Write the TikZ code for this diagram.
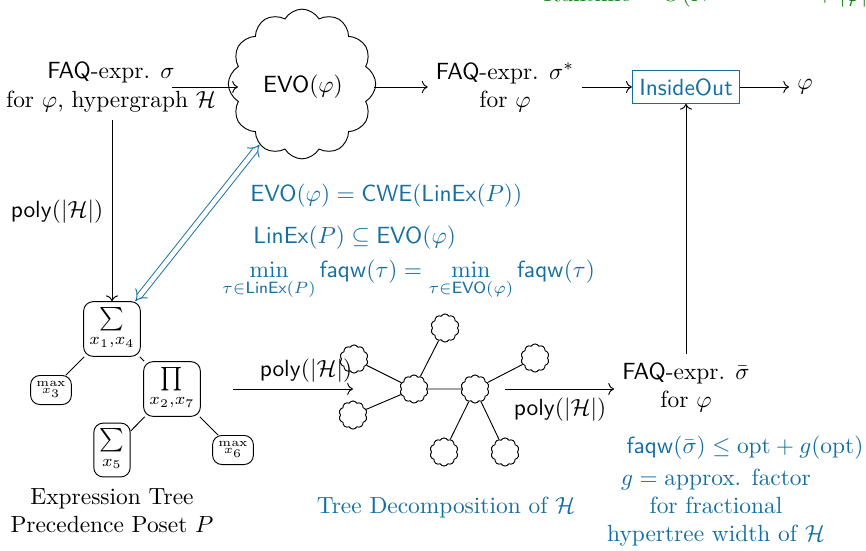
\documentclass[tikz,border=0pt]{standalone}
\usepackage{amsmath,amssymb}
\usetikzlibrary{shapes.symbols,arrows.meta}
\definecolor{tdblue}{rgb}{0.08,0.43,0.63}
\definecolor{rtgreen}{rgb}{0.05,0.52,0.05}
\tikzset{
  lbl/.style={align=center},
  bluetxt/.style={text=tdblue},
  treebox/.style={draw, rounded corners=4pt, inner sep=2.5pt},
  bag/.style={cloud, draw, cloud puffs=10, cloud puff arc=120, minimum width=12pt, minimum height=12pt, inner sep=0pt},
  conn/.style={->},
}
\begin{document}
\begin{tikzpicture}[x=0.4274pt,y=-0.4274pt]
\useasboundingbox (0,0) rectangle (866,550);

% clipped runtime text at the top
\node[anchor=base west, inner sep=0pt, text=rtgreen] (rt) at (543,1.5)
  {Runtime $=O(N^{\mathsf{faqw}(\sigma^*)}\hspace{4mm}+|\varphi|)$};

% top row
\node[lbl] (lt) at (111,87) {\textsf{FAQ}-expr. $\sigma$\\for $\varphi$, hypergraph $\mathcal{H}$};
\node[cloud, draw, cloud puffs=12, cloud puff arc=120, minimum width=63pt, minimum height=64pt, inner sep=0pt] (evo) at (302,84) {};
\node (evot) at (303,87) {$\mathsf{EVO}(\varphi)$};
\node[lbl] (ss) at (505,87) {\textsf{FAQ}-expr. $\sigma^*$\\for $\varphi$};
\node[draw=tdblue, text=tdblue, inner sep=3pt, minimum height=14pt] (io) at (686,87) {\textsf{InsideOut}};
\node (phi) at (805,87) {$\varphi$};

\coordinate (a1) at (172,87);
\coordinate (a1e) at (238,87);
\coordinate (a3) at (374,87);
\draw[conn] (a1) -- (a1e);
\draw[conn] (a3) -- (ss.west |- a3);
\draw[conn] (ss.east |- io.west) -- (io.west);
\draw[conn] (io.east) -- (phi.west);

% left vertical
\node (s1) [treebox] at (112,329) {$\sum\limits_{x_1,x_4}$};
\coordinate (a2) at (112,120);
\draw[conn] (a2) -- (s1.north);
\node (pl) at (57,212) {$\mathsf{poly}(|\mathcal{H}|)$};

% expression tree
\node (m3) [treebox] at (51,390) {\tiny$\max\limits_{x_3}$};
\node (p27) [treebox] at (172,389) {$\prod\limits_{x_2,x_7}$};
\node (s5) [treebox] at (112,450) {$\sum\limits_{x_5}$};
\node (m6) [treebox] at (233,450) {\tiny$\max\limits_{x_6}$};
\draw (s1) -- (m3);
\draw (s1) -- (p27);
\draw (p27) -- (s5);
\draw (p27) -- (m6);
\node[lbl] (et) at (112,511) {Expression Tree\\Precedence Poset $P$};

% blue double arrow and equations
\draw[tdblue, double, double distance=2pt, {Implies[length=4pt]}-{Implies[length=4pt]}] (s1.50) -- (evo.235);
\node[anchor=west, inner sep=0pt, text=tdblue] (e1) at (250,196) {$\mathsf{EVO}(\varphi)=\mathsf{CWE}(\mathsf{LinEx}(P))$};
\node[anchor=west, inner sep=0pt, text=tdblue] (e2) at (253,238) {$\mathsf{LinEx}(P)\subseteq\mathsf{EVO}(\varphi)$};
\node[anchor=base west, inner sep=0pt, text=tdblue] (e3) at (222,277)
  {$\min\limits_{\tau\in\mathsf{LinEx}(P)}\mathsf{faqw}(\tau)=\min\limits_{\tau\in\mathsf{EVO}(\varphi)}\mathsf{faqw}(\tau)$};

% middle arrow
\coordinate (b1) at (233,389);
\coordinate (b2) at (353,389);
\draw[conn] (b1) -- (b2);
\node (pm) at (306,371) {$\mathsf{poly}(|\mathcal{H}|)$};

% tree decomposition
\node[bag] (ta) at (414,389) {};
\node[bag] (tb) at (475,389) {};
\node[bag] (tt) at (445,328) {};
\node[bag] (tul) at (354,359) {};
\node[bag] (tll) at (353,415) {};
\node[bag] (tur) at (535,358) {};
\node[bag] (tbl) at (444,452) {};
\node[bag] (tbr) at (505,452) {};
\draw (ta) -- (tb);
\draw (ta) -- (tt);
\draw (ta) -- (tul);
\draw (ta) -- (tll);
\draw (tb) -- (tur);
\draw (tb) -- (tbl);
\draw (tb) -- (tbr);
\node[text=tdblue] (tdl) at (446,508) {Tree Decomposition of $\mathcal{H}$};

% right arrow
\node[lbl] (sb) at (686,387) {\textsf{FAQ}-expr. $\bar{\sigma}$\\for $\varphi$};
\coordinate (c1) at (505,389);
\draw[conn] (c1) -- (sb.west |- c1);
\node (pr) at (560,410) {$\mathsf{poly}(|\mathcal{H}|)$};
\draw[conn] (sb.north) -- (io.south);

% right blue text
\node[text=tdblue] (f1) at (745,448) {$\mathsf{faqw}(\bar{\sigma})\le\mathrm{opt}+g(\mathrm{opt})$};
\node[lbl, text=tdblue] (f2) at (716,508) {$g=\text{approx. factor}$\\for fractional\\hypertree width of $\mathcal{H}$};
\end{tikzpicture}
\end{document}
